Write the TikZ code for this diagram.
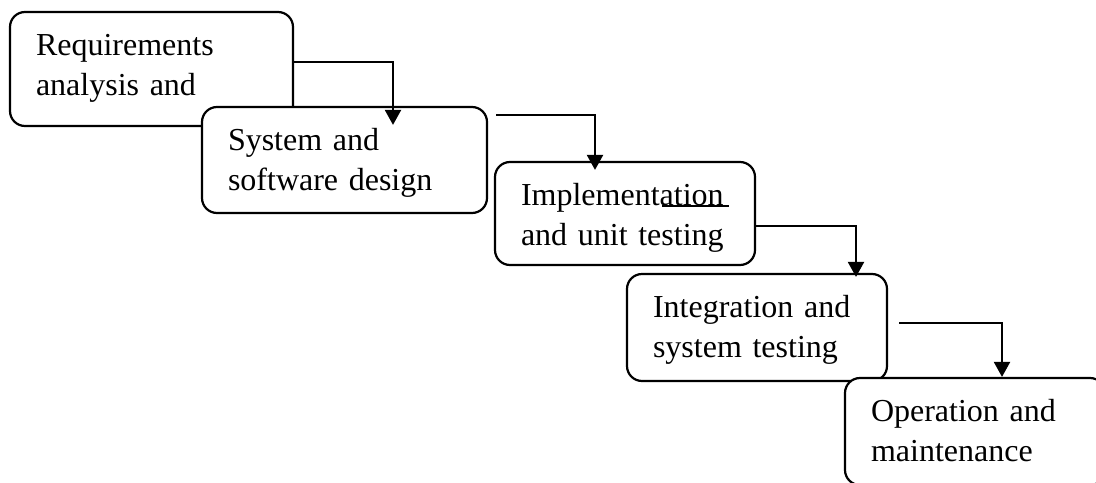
\documentclass[tikz,border=0pt]{standalone}
\usepackage{fontspec}
\setmainfont{Liberation Serif}
\usetikzlibrary{arrows.meta}
\usetikzlibrary{calc}

\begin{document}
\begin{tikzpicture}[
  x=0.5pt, y=-0.5pt,
  phase/.style={draw, line width=1.1pt, rounded corners=7.5pt, fill=white, align=left, inner xsep=13pt, inner ysep=0pt, text height=21.5pt, font=\fontsize{16}{20}\selectfont},
  arrow/.style={-{Triangle[length=7.5pt, width=8pt]}, line width=1.1pt}
]
\useasboundingbox (0,0) rectangle (1096,482);
\clip (0,0) rectangle (1096,482);

\node[phase, text width=115.5pt, text depth=35.5pt] (req) at (151.5,69) {Requirements\\analysis and};
\node[phase, text width=116.5pt, text depth=31.5pt] (design) at (344.5,160) {System and\\software design};
\node[phase, text width=104pt, text depth=30pt] (impl) at (625,213.5) {Implementation\\and unit testing};
\node[phase, text width=104pt, text depth=32pt] (integ) at (757,327.5) {Integration and\\system testing};
\node[phase, text width=104pt, text depth=32pt] (oper) at (975,431.5) {Operation and\\maintenance};

\draw[arrow] ($(req.east)+(0,-7)$) -| ($(design.north)+(48.5,19)$);
\draw[arrow] ($(design.east)+(8,-45)$) -| ($(impl.north)+(-30,9)$);
\draw[arrow] ($(impl.east)+(0,12.5)$) -| ($(integ.north)+(99,4)$);
\draw[arrow] ($(integ.east)+(11,-4.5)$) -| ($(oper.north)+(27,0)$);

\draw[line width=1.1pt] ($(impl.center)+(37,-7.5)$) -- ($(impl.center)+(104,-7.5)$);

\end{tikzpicture}
\end{document}
